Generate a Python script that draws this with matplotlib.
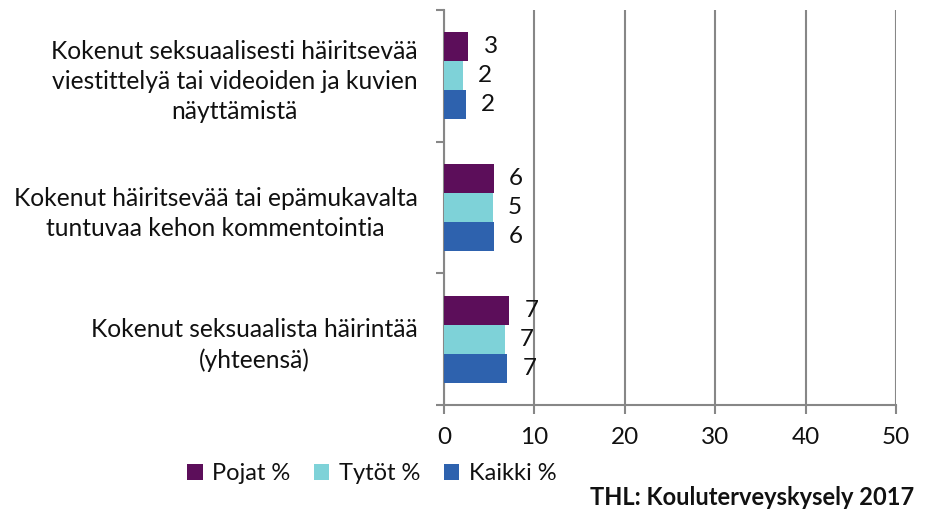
import numpy as np
import matplotlib
matplotlib.use("Agg")
import matplotlib.pyplot as plt
from matplotlib.patches import Patch

# categories listed bottom -> top
categories = [
    "Kokenut seksuaalista häirintää\n(yhteensä)",
    "Kokenut häiritsevää tai epämukavalta\ntuntuvaa kehon kommentointia",
    "Kokenut seksuaalisesti häiritsevää\nviestittelyä tai videoiden ja kuvien\nnäyttämistä",
]
series = ["Pojat %", "Tytöt %", "Kaikki %"]
pojat = [7.2, 5.5, 2.7]
tytot = [6.7, 5.4, 2.1]
kaikki = [7.0, 5.5, 2.4]
pojat_lbl = [7, 6, 3]
tytot_lbl = [7, 5, 2]
kaikki_lbl = [7, 6, 2]
xticks = [0, 10, 20, 30, 40, 50]

COLORS = ["#5C0E5A", "#7ED2D8", "#2E62AE"]
GRID = "#878787"
INK = "#111111"

plt.rcParams.update({
    "font.family": ["Lato", "DejaVu Sans"],
    "font.size": 17.5,
    "text.color": INK,
})

fig = plt.figure(figsize=(9.27, 5.11), dpi=100)
ax = fig.add_axes([0.479, 0.2074, 0.4876, 0.773])

y = np.arange(len(categories))
h = 0.221
offsets = [h, 0, -h]
for vals, lbls, col, off in zip([pojat, tytot, kaikki],
                                [pojat_lbl, tytot_lbl, kaikki_lbl],
                                COLORS, offsets):
    ax.barh(y + off, vals, height=h, color=col, zorder=3)
    for yi, v, l in zip(y, vals, lbls):
        ax.annotate(str(l), (v, yi + off), xytext=(11, 0),
                    textcoords="offset points", va="center", ha="left",
                    fontsize=17.5, color=INK)

ax.set_xlim(0, 50)
ax.set_ylim(-0.5, 2.5)
ax.set_xticks(xticks)
ax.set_yticks(y)
ax.set_yticklabels(categories, ha="right", multialignment="center",
                   linespacing=1.38)
ax.set_yticks([-0.5, 0.5, 1.5, 2.5], minor=True)
ax.tick_params(axis="y", which="major", length=0, pad=19, labelsize=17.7,
               labelcolor=INK)
ax.tick_params(axis="y", which="minor", length=6, width=1.5, color=GRID,
               direction="out")
ax.tick_params(axis="x", length=6.5, width=1.5, color=GRID, pad=9,
               labelsize=17.5, labelcolor=INK)

ax.grid(axis="x", color=GRID, lw=1.5, zorder=0)
for s in ["top", "right"]:
    ax.spines[s].set_visible(False)
for s in ["left", "bottom"]:
    ax.spines[s].set_color(GRID)
    ax.spines[s].set_linewidth(1.5)

handles = [Patch(facecolor=c, edgecolor="none") for c in COLORS]
fig.legend(handles, series, loc="center", bbox_to_anchor=(0.401, 0.0725),
           ncol=3, frameon=False, fontsize=17, handlelength=0.65,
           handleheight=0.65, handletextpad=0.4, columnspacing=1.0)

fig.text(0.986, 0.027, "THL: Kouluterveyskysely 2017", ha="right",
         va="center", fontsize=17, fontweight="bold", color=INK)

fig.savefig("out.png", dpi=100)
